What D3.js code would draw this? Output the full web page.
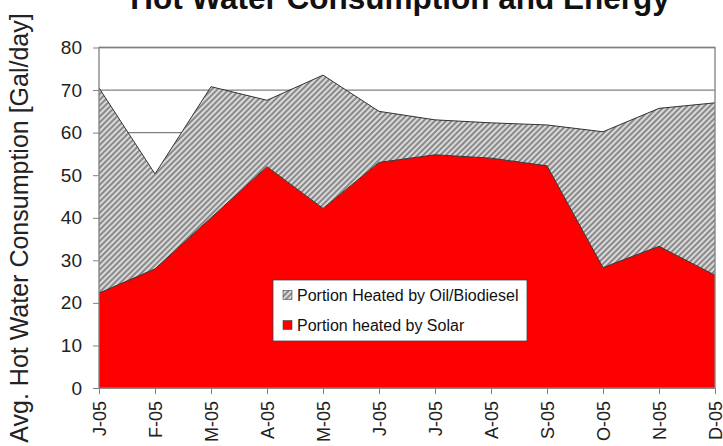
<!DOCTYPE html>
<html>
<head>
<meta charset="utf-8">
<script src="https://cdn.jsdelivr.net/npm/d3@7/dist/d3.min.js"></script>
<style>
  body { margin: 0; background: #fff; }
  svg { display: block; font-family: "Liberation Sans", Arial, sans-serif; }
  .axis path, .axis line { stroke: #808080; }
  .axis text { fill: #222; }
</style>
</head>
<body>
<script>
// data
const months = ['J-05', 'F-05', 'M-05', 'A-05', 'M-05 ', 'J-05 ', 'J-05  ', 'A-05 ', 'S-05', 'O-05', 'N-05', 'D-05']
const solar = [22.3, 28, 40, 52, 42.2, 53, 54.8, 54, 52.2, 28.3, 33.3, 26.5]
const oil = [48.2, 22.3, 30.8, 15.6, 31.3, 12, 8.2, 8.3, 9.6, 31.9, 32.4, 40.5]
const yTicks = [0, 10, 20, 30, 40, 50, 60, 70, 80]
const seriesNames = ['Portion Heated by Oil/Biodiesel', 'Portion heated by Solar']

const W = 723, H = 446
const margin = {top: 47.5, right: 8, bottom: 58, left: 99}

const svg = d3.select('body').append('svg')
  .attr('width', W)
  .attr('height', H)

const defs = svg.append('defs')
const pat = defs.append('pattern')
  .attr('id', 'hatch')
  .attr('patternUnits', 'userSpaceOnUse')
  .attr('width', 4)
  .attr('height', 4)
  .attr('patternTransform', 'rotate(45)')
pat.append('rect').attr('width', 4).attr('height', 4).attr('fill', '#d9d9d9')
pat.append('rect').attr('width', 2).attr('height', 4).attr('fill', '#8a8a8a')

const x = d3.scalePoint()
  .domain(months)
  .range([margin.left, W - margin.right])

const y = d3.scaleLinear()
  .domain([0, 80])
  .range([H - margin.bottom, margin.top])

// grid lines
svg.append('g')
  .selectAll('line')
  .data(yTicks)
  .join('line')
  .attr('x1', margin.left)
  .attr('x2', W - margin.right)
  .attr('y1', d => y(d))
  .attr('y2', d => y(d))
  .attr('stroke', '#808080')
  .attr('stroke-width', 1.3)

const table = months.map((m, i) => ({month: m, solar: solar[i], oil: oil[i]}))
const stacked = d3.stack().keys(['solar', 'oil'])(table)

const area = d3.area()
  .x(d => x(d.data.month))
  .y0(d => y(d[0]))
  .y1(d => y(d[1]))

const fills = {solar: '#ff0000', oil: 'url(#hatch)'}

svg.append('g')
  .selectAll('path')
  .data(stacked)
  .join('path')
  .attr('d', area)
  .attr('fill', d => fills[d.key])

// dark outlines along the tops
const topLine = d3.line()
  .x(d => x(d.data.month))
  .y(d => y(d[1]))
svg.append('g')
  .selectAll('path')
  .data(stacked)
  .join('path')
  .attr('d', topLine)
  .attr('fill', 'none')
  .attr('stroke', '#333')
  .attr('stroke-width', 1)

// plot border
svg.append('rect')
  .attr('x', margin.left)
  .attr('y', margin.top)
  .attr('width', W - margin.right - margin.left)
  .attr('height', H - margin.bottom - margin.top)
  .attr('fill', 'none')
  .attr('stroke', '#808080')
  .attr('stroke-width', 1.3)

// axes
const yAxis = d3.axisLeft(y).tickValues(yTicks).tickSize(6).tickPadding(11).tickSizeOuter(0)
svg.append('g')
  .attr('class', 'y axis')
  .attr('transform', `translate(${margin.left},0)`)
  .call(yAxis)
  .call(g => g.select('.domain').remove())
  .selectAll('text')
  .attr('font-size', 19)

const xAxis = d3.axisBottom(x).tickSize(6).tickSizeOuter(0).tickFormat(d => d.trim())
svg.append('g')
  .attr('class', 'x axis')
  .attr('transform', `translate(0,${H - margin.bottom})`)
  .call(xAxis)
  .call(g => g.select('.domain').remove())
  .selectAll('text')
  .attr('font-size', 18)
  .attr('transform', 'rotate(-90)')
  .attr('text-anchor', 'end')
  .attr('x', -13)
  .attr('y', 0)
  .attr('dy', '0.35em')

// title (cut off at the top)
svg.append('text')
  .attr('x', 400)
  .attr('y', 9)
  .attr('text-anchor', 'middle')
  .attr('font-size', 31.5)
  .attr('font-weight', 'bold')
  .attr('fill', '#111')
  .text('Hot Water Consumption and Energy')

// y axis title
svg.append('text')
  .attr('transform', `translate(28,228) rotate(-90)`)
  .attr('text-anchor', 'middle')
  .attr('font-size', 25)
  .attr('fill', '#222')
  .text('Avg. Hot Water Consumption [Gal/day]')

// legend
const legend = svg.append('g').attr('transform', 'translate(273,280)')
legend.append('rect')
  .attr('width', 254)
  .attr('height', 61)
  .attr('fill', '#fff')
  .attr('stroke', '#444')
  .attr('stroke-width', 0.8)
const items = legend.selectAll('g')
  .data(seriesNames)
  .join('g')
  .attr('transform', (d, i) => `translate(10,${15 + i * 30})`)
items.append('rect')
  .attr('x', 0)
  .attr('y', -4.5)
  .attr('width', 9)
  .attr('height', 9)
  .attr('fill', (d, i) => i === 0 ? 'url(#hatch)' : '#ff0000')
  .attr('stroke', '#444')
  .attr('stroke-width', 0.6)
items.append('text')
  .attr('x', 14)
  .attr('dy', '0.35em')
  .attr('font-size', 16)
  .attr('fill', '#111')
  .text(d => d)
</script>
</body>
</html>
